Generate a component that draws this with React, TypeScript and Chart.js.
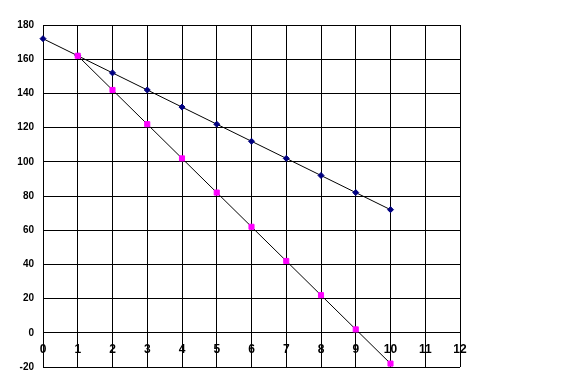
import React, { useEffect, useRef } from "react";
import { Chart, registerables } from "chart.js";

Chart.register(...registerables);

const xSeriesA = [0, 1, 2, 3, 4, 5, 6, 7, 8, 9, 10];
const valuesA = [172, 162, 152, 142, 132, 122, 112, 102, 92, 82, 72];
const xSeriesB = [1, 2, 3, 4, 5, 6, 7, 8, 9, 10];
const valuesB = [162, 142, 122, 102, 82, 62, 42, 22, 2, -18];
const xMin = 0;
const xMax = 12;
const yMin = -20;
const yMax = 180;

export default function App() {
  const ref = useRef<HTMLCanvasElement | null>(null);

  useEffect(() => {
    document.body.style.margin = "0";
    const canvas = ref.current;
    if (!canvas) return;
    const chart = new Chart(canvas, {
      type: "scatter",
      data: {
        datasets: [
          {
            label: "A",
            data: xSeriesA.map((x, i) => ({ x, y: valuesA[i] })),
            showLine: true,
            order: 1,
            clip: false,
            borderColor: "#000000",
            borderWidth: 1,
            pointStyle: "rectRot",
            pointRadius: 3,
            pointBackgroundColor: "#000080",
            pointBorderColor: "#000080",
            pointBorderWidth: 1,
          },
          {
            label: "B",
            data: xSeriesB.map((x, i) => ({ x, y: valuesB[i] })),
            showLine: true,
            order: 0,
            clip: false,
            borderColor: "#000000",
            borderWidth: 1,
            pointStyle: "rect",
            pointRadius: 3.6,
            pointBackgroundColor: "#FF00FF",
            pointBorderColor: "#FF00FF",
            pointBorderWidth: 1,
          },
        ],
      },
      options: {
        animation: false,
        responsive: false,
        maintainAspectRatio: false,
        layout: { padding: { left: 0, top: 25, right: 116, bottom: 25 } },
        plugins: {
          legend: { display: false },
          tooltip: { enabled: false },
        },
        scales: {
          x: {
            type: "linear",
            position: { y: 0 },
            min: xMin,
            max: xMax,
            ticks: {
              stepSize: 1,
              color: "#000000",
              font: { family: "Arial, 'Liberation Sans', sans-serif", size: 12, weight: "bold" },
              padding: 10,
            },
            grid: { color: "#000000", lineWidth: 1, drawTicks: false },
            border: { color: "#000000", width: 1 },
            afterFit: (scale: any) => {
              scale.height = 0;
            },
          },
          y: {
            type: "linear",
            position: "left",
            min: yMin,
            max: yMax,
            ticks: {
              stepSize: 20,
              color: "#000000",
              font: { family: "Arial, 'Liberation Sans', sans-serif", size: 10, weight: "bold" },
              padding: 9,
            },
            grid: { color: "#000000", lineWidth: 1, drawTicks: false },
            border: { color: "#000000", width: 1 },
            afterFit: (scale: any) => {
              scale.width = 43;
            },
          },
        },
      },
    });
    return () => chart.destroy();
  }, []);

  return (
    <div style={{ width: 576, height: 392, background: "#ffffff" }}>
      <canvas ref={ref} width={576} height={392} style={{ display: "block" }} />
    </div>
  );
}
